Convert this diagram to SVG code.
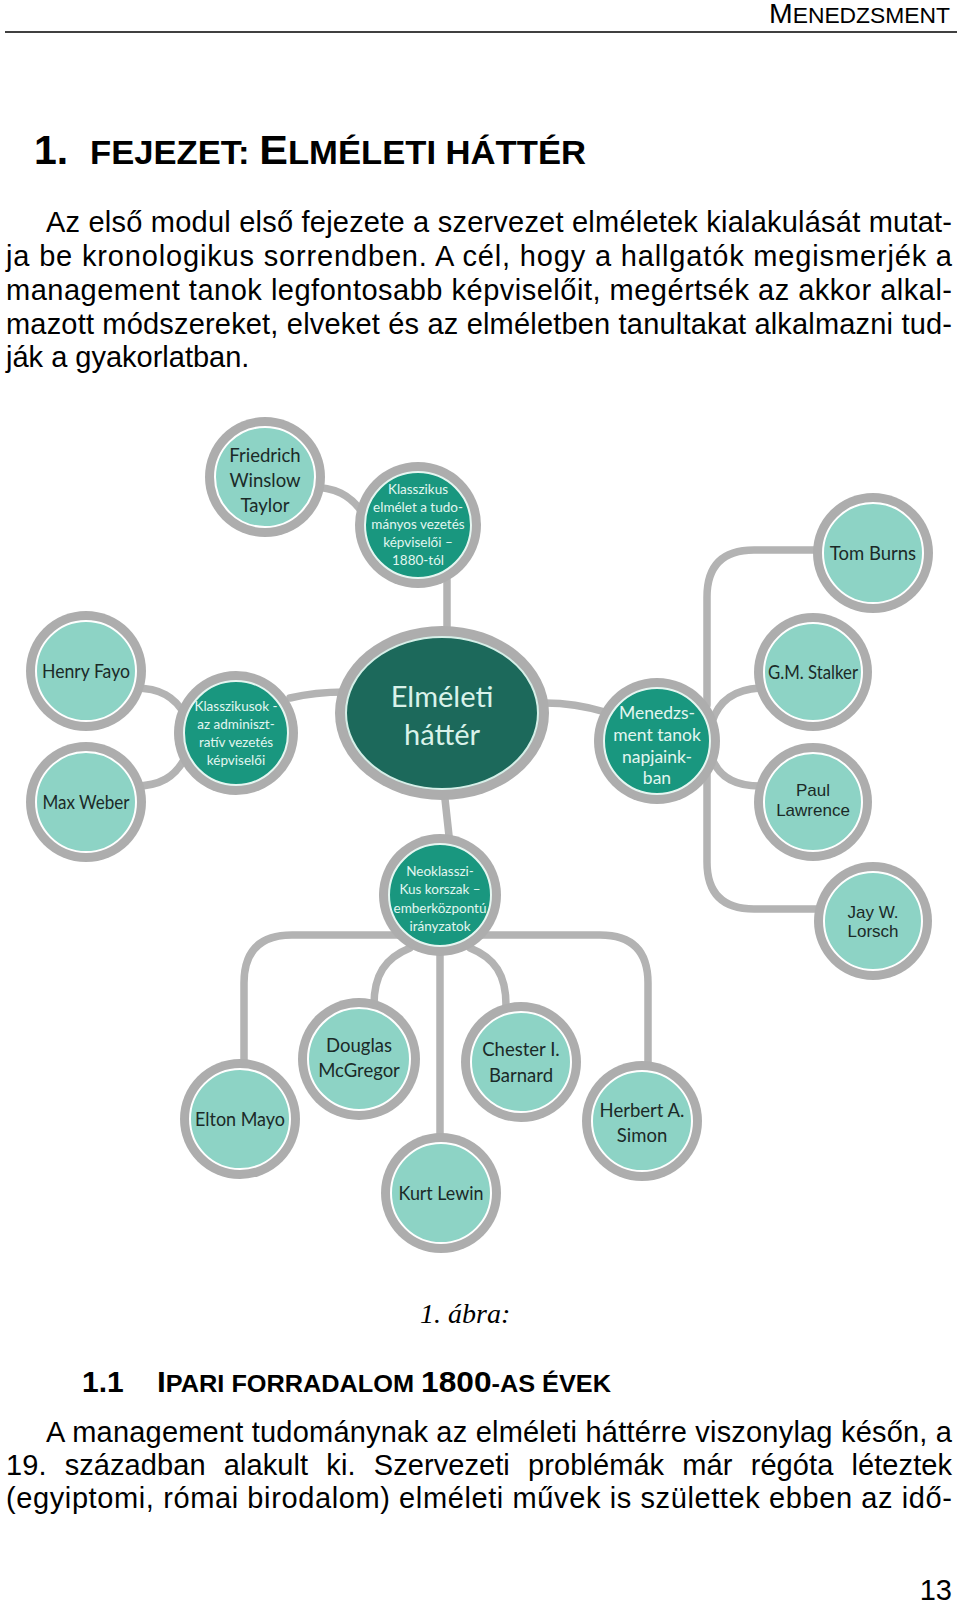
<svg xmlns="http://www.w3.org/2000/svg" width="960" height="1605" viewBox="0 0 960 1605">
<style>
.body{font-family:"Liberation Sans",Arial,sans-serif;font-size:29px;fill:#000}
.hd{font-family:"Liberation Sans",Arial,sans-serif;font-weight:bold;fill:#000}
.ring{fill:#adadad}
.lt{fill:#8dd3c5;stroke:#ffffff;stroke-width:2}
.md{fill:#19977f;stroke:#e6f6f1;stroke-width:2}
.dk{fill:#1c695b;stroke:#d6efe8;stroke-width:2}
.tl{font-family:Lato,"Open Sans",sans-serif;font-size:18.5px;fill:#1b2a28;text-anchor:middle}
.ta{font-family:"Liberation Sans",Arial,sans-serif;font-size:17px;fill:#1b2a28;text-anchor:middle}
.tm{font-family:Lato,"Open Sans",sans-serif;font-size:13.5px;fill:#e2f6f0;text-anchor:middle}
.tm2{font-family:Lato,"Open Sans",sans-serif;font-size:17.5px;fill:#e2f6f0;text-anchor:middle}
.tc{font-family:Lato,"Open Sans",sans-serif;font-size:29px;fill:#d9f2ea;text-anchor:middle}
.conn{fill:none;stroke:#b3b3b3;stroke-width:7.5;stroke-linecap:round}
</style>
<rect x="0" y="0" width="960" height="1605" fill="#ffffff"/>

<g id="header">
<text class="body" x="950" y="23" text-anchor="end" textLength="181" lengthAdjust="spacingAndGlyphs"><tspan font-size="28">M</tspan><tspan font-size="22.5">ENEDZSMENT</tspan></text>
<line x1="5" y1="32" x2="957" y2="32" stroke="#000" stroke-width="1.5"/>
</g>

<g id="title">
<text class="hd" x="34" y="164" font-size="41">1.</text>
<text class="hd" x="90" y="164" textLength="496" lengthAdjust="spacingAndGlyphs"><tspan font-size="33">FEJEZET: </tspan><tspan font-size="41">E</tspan><tspan font-size="33">LMÉLETI HÁTTÉR</tspan></text>
</g>

<g id="intro">
<text class="body" x="46" y="232" textLength="906" lengthAdjust="spacing">Az első modul első fejezete a szervezet elméletek kialakulását mutat-</text>
<text class="body" x="6" y="266" textLength="946" lengthAdjust="spacing">ja be kronologikus sorrendben. A cél, hogy a hallgatók megismerjék a</text>
<text class="body" x="6" y="300" textLength="946" lengthAdjust="spacing">management tanok legfontosabb képviselőit, megértsék az akkor alkal-</text>
<text class="body" x="6" y="334" textLength="946" lengthAdjust="spacing">mazott módszereket, elveket és az elméletben tanultakat alkalmazni tud-</text>
<text class="body" x="6" y="367">ják a gyakorlatban.</text>
</g>

<g id="connectors">
<path class="conn" d="M 310 487 C 335 487, 350 495, 362 512"/>
<path class="conn" d="M 447 580 L 447 635"/>
<path class="conn" d="M 135 688 C 160 688, 175 697, 185 715"/>
<path class="conn" d="M 135 786 C 160 786, 175 777, 185 758"/>
<path class="conn" d="M 290 698 Q 315 692 345 692"/>
<path class="conn" d="M 545 703 Q 575 703 605 712"/>
<path class="conn" d="M 444 790 L 450 845"/>
<path class="conn" d="M 707 705 L 707 597 Q 707 550 754 550 L 820 550"/>
<path class="conn" d="M 712 722 Q 722 690 760 688"/>
<path class="conn" d="M 712 758 Q 722 786 760 786"/>
<path class="conn" d="M 707 775 L 707 862 Q 707 909 754 909 L 820 909"/>
<path class="conn" d="M 400 935 L 292 935 Q 244 935 244 983 L 244 1065"/>
<path class="conn" d="M 410 948 C 385 958, 374 975, 374 1005"/>
<path class="conn" d="M 440 950 L 440 1140"/>
<path class="conn" d="M 470 948 C 495 958, 506 975, 506 1005"/>
<path class="conn" d="M 480 935 L 600 935 Q 648 935 648 983 L 648 1068"/>
</g>

<g id="n-taylor">
<circle class="ring" cx="265" cy="477" r="60"/><circle class="lt" cx="265" cy="477" r="50"/>
<text class="tl" x="265" y="461.5">Friedrich</text><text class="tl" x="265" y="486.5">Winslow</text><text class="tl" x="265" y="511.5">Taylor</text>
</g>
<g id="n-klasszikus-tud">
<circle class="ring" cx="418" cy="525" r="63"/><circle class="md" cx="418" cy="525" r="53"/>
<text class="tm" x="418" y="494">Klasszikus</text><text class="tm" x="418" y="512">elmélet a tudo-</text><text class="tm" x="418" y="529">mányos vezetés</text><text class="tm" x="418" y="547">képviselői –</text><text class="tm" x="418" y="565">1880-tól</text>
</g>
<g id="n-tomburns">
<circle class="ring" cx="873" cy="553" r="60"/><circle class="lt" cx="873" cy="553" r="50"/>
<text class="tl" x="873" y="559.5">Tom Burns</text>
</g>
<g id="n-fayo">
<circle class="ring" cx="86" cy="671" r="60"/><circle class="lt" cx="86" cy="671" r="50"/>
<text class="tl" x="86" y="677.5" textLength="88" lengthAdjust="spacingAndGlyphs">Henry Fayo</text>
</g>
<g id="n-klasszikusok">
<circle class="ring" cx="236" cy="733" r="62"/><circle class="md" cx="236" cy="733" r="52"/>
<text class="tm" x="236" y="711">Klasszikusok -</text><text class="tm" x="236" y="729">az adminiszt-</text><text class="tm" x="236" y="747">ratív vezetés</text><text class="tm" x="236" y="765">képviselői</text>
</g>
<g id="n-center">
<ellipse class="ring" cx="442" cy="713" rx="107" ry="87"/><ellipse class="dk" cx="442" cy="713" rx="96" ry="76"/>
<text class="tc" x="442" y="707">Elméleti</text><text class="tc" x="442" y="745">háttér</text>
</g>
<g id="n-menedzsment">
<circle class="ring" cx="657" cy="741" r="63"/><circle class="md" cx="657" cy="741" r="53"/>
<text class="tm2" x="657" y="719">Menedzs-</text><text class="tm2" x="657" y="741">ment tanok</text><text class="tm2" x="657" y="763">napjaink-</text><text class="tm2" x="657" y="784">ban</text>
</g>
<g id="n-stalker">
<circle class="ring" cx="813" cy="672" r="59"/><circle class="lt" cx="813" cy="672" r="49"/>
<text class="tl" x="813" y="678.5" textLength="90" lengthAdjust="spacingAndGlyphs">G.M. Stalker</text>
</g>
<g id="n-weber">
<circle class="ring" cx="86" cy="802" r="60"/><circle class="lt" cx="86" cy="802" r="50"/>
<text class="tl" x="86" y="808.5" textLength="87" lengthAdjust="spacingAndGlyphs">Max Weber</text>
</g>
<g id="n-lawrence">
<circle class="ring" cx="813" cy="802" r="59"/><circle class="lt" cx="813" cy="802" r="49"/>
<text class="ta" x="813" y="796">Paul</text><text class="ta" x="813" y="816">Lawrence</text>
</g>
<g id="n-lorsch">
<circle class="ring" cx="873" cy="921" r="59"/><circle class="lt" cx="873" cy="921" r="49"/>
<text class="ta" x="873" y="918">Jay W.</text><text class="ta" x="873" y="937">Lorsch</text>
</g>
<g id="n-neoklasszikus">
<circle class="ring" cx="440" cy="895" r="61"/><circle class="md" cx="440" cy="895" r="51"/>
<text class="tm" x="440" y="876">Neoklasszi-</text><text class="tm" x="440" y="894">Kus korszak –</text><text class="tm" x="440" y="913">emberközpontú</text><text class="tm" x="440" y="931">irányzatok</text>
</g>
<g id="n-mcgregor">
<circle class="ring" cx="359" cy="1059" r="61"/><circle class="lt" cx="359" cy="1059" r="51"/>
<text class="tl" x="359" y="1051.5">Douglas</text><text class="tl" x="359" y="1076.5">McGregor</text>
</g>
<g id="n-barnard">
<circle class="ring" cx="521" cy="1062" r="60"/><circle class="lt" cx="521" cy="1062" r="50"/>
<text class="tl" x="521" y="1055.5">Chester I.</text><text class="tl" x="521" y="1081.5">Barnard</text>
</g>
<g id="n-mayo">
<circle class="ring" cx="240" cy="1119" r="60"/><circle class="lt" cx="240" cy="1119" r="50"/>
<text class="tl" x="240" y="1126" textLength="90" lengthAdjust="spacingAndGlyphs">Elton Mayo</text>
</g>
<g id="n-simon">
<circle class="ring" cx="642" cy="1121" r="60"/><circle class="lt" cx="642" cy="1121" r="50"/>
<text class="tl" x="642" y="1117">Herbert A.</text><text class="tl" x="642" y="1141.5">Simon</text>
</g>
<g id="n-lewin">
<circle class="ring" cx="441" cy="1193" r="60"/><circle class="lt" cx="441" cy="1193" r="50"/>
<text class="tl" x="441" y="1199.5" textLength="85" lengthAdjust="spacingAndGlyphs">Kurt Lewin</text>
</g>

<g id="caption">
<text x="420" y="1323" font-family="'Liberation Serif','Times New Roman',serif" font-style="italic" font-size="28">1. ábra:</text>
</g>

<g id="section">
<text class="hd" x="82" y="1392" font-size="30">1.1</text>
<text class="hd" x="157" y="1392" textLength="454" lengthAdjust="spacingAndGlyphs"><tspan font-size="30">I</tspan><tspan font-size="24">PARI FORRADALOM </tspan><tspan font-size="30">1800</tspan><tspan font-size="24">-AS ÉVEK</tspan></text>
</g>

<g id="para2">
<text class="body" x="46" y="1442" textLength="906" lengthAdjust="spacing">A management tudománynak az elméleti háttérre viszonylag későn, a</text>
<text class="body" x="6" y="1475" word-spacing="10" textLength="946" lengthAdjust="spacing">19. században alakult ki. Szervezeti problémák már régóta léteztek</text>
<text class="body" x="6" y="1508" textLength="946" lengthAdjust="spacing">(egyiptomi, római birodalom) elméleti művek is születtek ebben az idő-</text>
</g>

<g id="pagenum">
<text class="body" x="952" y="1600" text-anchor="end">13</text>
</g>
</svg>
